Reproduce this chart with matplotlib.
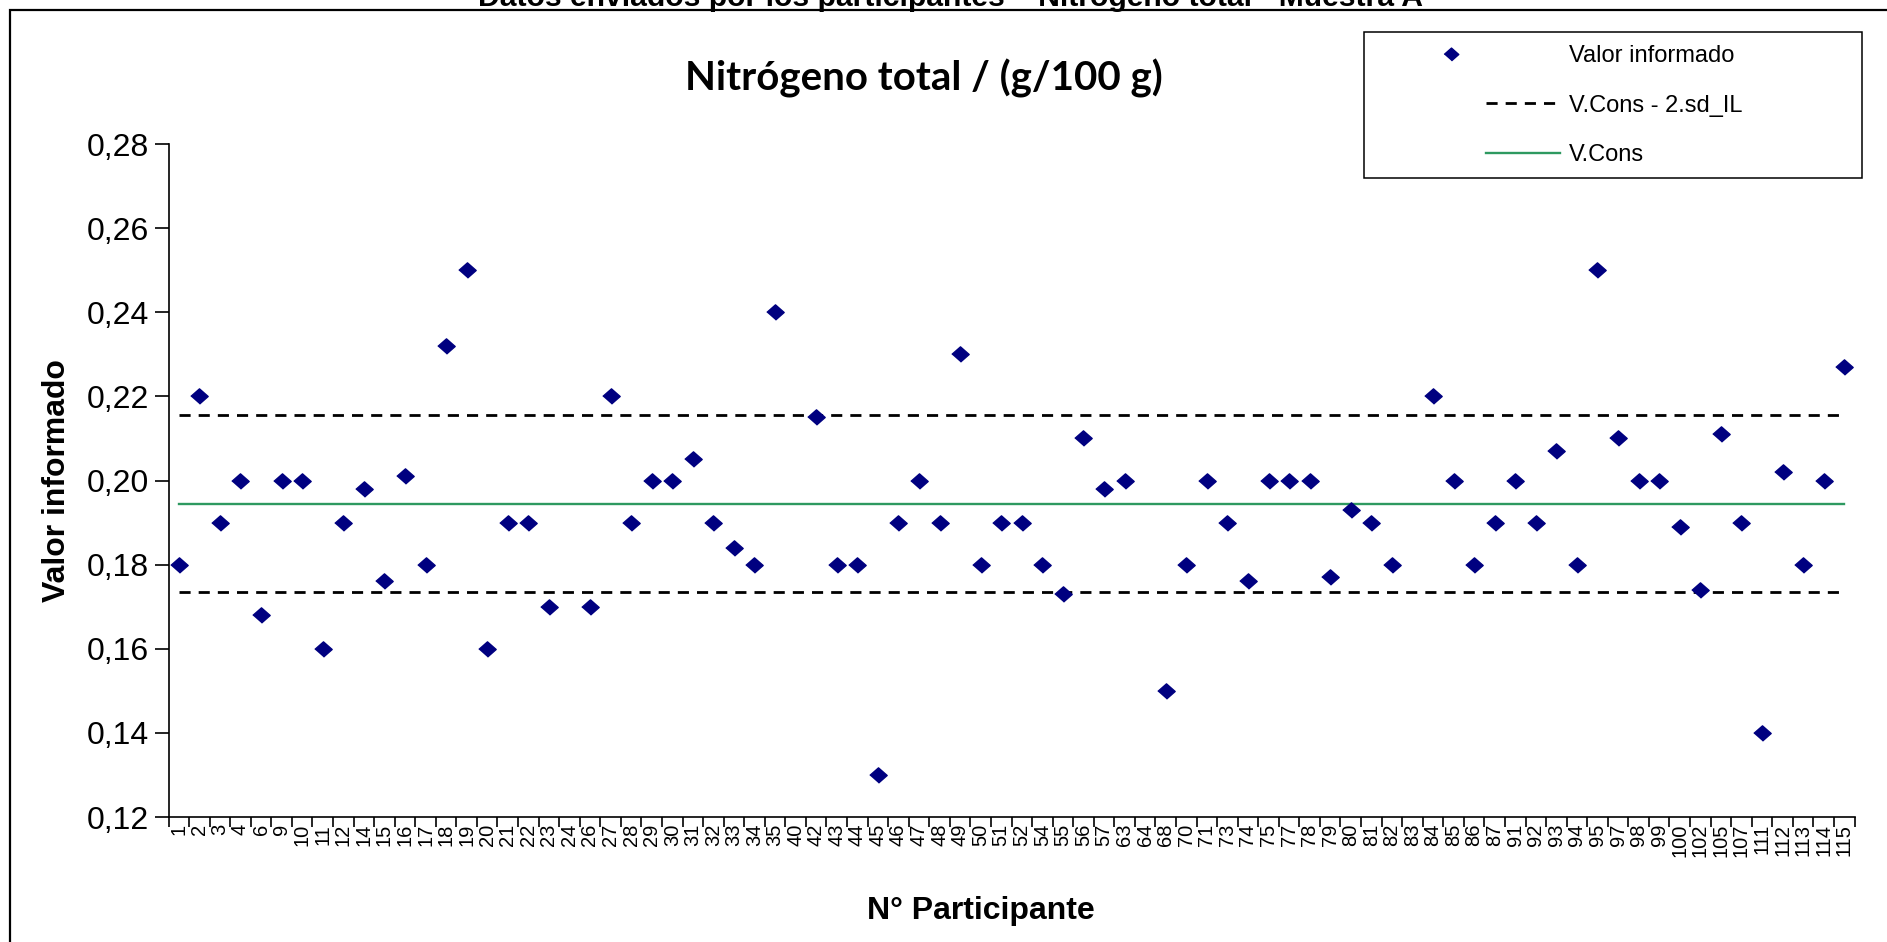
import numpy as np
import matplotlib
matplotlib.use("Agg")
import matplotlib.pyplot as plt
from matplotlib.lines import Line2D
from matplotlib.patches import Rectangle
from matplotlib.legend_handler import HandlerLine2D
from matplotlib.ticker import FuncFormatter

# --- data -------------------------------------------------------------
participants = ['1', '2', '3', '4', '6', '9', '10', '11', '12', '14',
                '15', '16', '17', '18', '19', '20', '21', '22', '23', '24',
                '26', '27', '28', '29', '30', '31', '32', '33', '34', '35',
                '40', '42', '43', '44', '45', '46', '47', '48', '49', '50',
                '51', '52', '54', '55', '56', '57', '63', '64', '68', '70',
                '71', '73', '74', '75', '77', '78', '79', '80', '81', '82',
                '83', '84', '85', '86', '87', '91', '92', '93', '94', '95',
                '97', '98', '99', '100', '102', '105', '107', '111', '112', '113',
                '114', '115']

reported = [0.180, 0.220, 0.190, 0.200, 0.168, 0.200, 0.200, 0.160, 0.190, 0.198,
            0.176, 0.201, 0.180, 0.232, 0.250, 0.160, 0.190, 0.190, 0.170, None,
            0.170, 0.220, 0.190, 0.200, 0.200, 0.205, 0.190, 0.184, 0.180, 0.240,
            None, 0.215, 0.180, 0.180, 0.130, 0.190, 0.200, 0.190, 0.230, 0.180,
            0.190, 0.190, 0.180, 0.173, 0.210, 0.198, 0.200, None, 0.150, 0.180,
            0.200, 0.190, 0.176, 0.200, 0.200, 0.200, 0.177, 0.193, 0.190, 0.180,
            None, 0.220, 0.200, 0.180, 0.190, 0.200, 0.190, 0.207, 0.180, 0.250,
            0.210, 0.200, 0.200, 0.189, 0.174, 0.211, 0.190, 0.140, 0.202, 0.180,
            0.200, 0.227]

v_cons = 0.1945      # consensus value
two_sd_il = 0.0210   # 2 x interlaboratory standard deviation

y_ticks = [0.12, 0.14, 0.16, 0.18, 0.20, 0.22, 0.24, 0.26, 0.28]

# --- figure -------------------------------------------------------------
W, H = 1887, 942
fig = plt.figure(figsize=(W / 100, H / 100), dpi=100)
fig.patch.set_facecolor("white")


def fx(px):
    return px / W


def fy(py):
    return 1 - py / H


sans = ["Liberation Sans", "DejaVu Sans"]
navy = "#000080"
green = "#2E9960"
diamond = [(-1, 0), (0, 0.88), (1, 0), (0, -0.88)]

ax = fig.add_axes([fx(168.5), fy(817), fx(1854.5) - fx(168.5), fy(144) - fy(817)])

n = len(participants)
x = np.arange(n)
vals = np.array([np.nan if v is None else v for v in reported], dtype=float)

ax.plot(x, np.full(n, v_cons + two_sd_il), color="black", lw=2.0, dashes=(4, 2.9))
ax.plot(x, np.full(n, v_cons - two_sd_il), color="black", lw=2.0, dashes=(4, 2.9))
ax.plot(x, np.full(n, v_cons), color=green, lw=1.7)
ax.plot(x, vals, ls="none", marker=diamond, ms=12.5, color=navy, mec=navy)

ax.set_xlim(-0.5, n - 0.5)
ax.set_ylim(y_ticks[0], y_ticks[-1])
ax.set_yticks(y_ticks)
ax.yaxis.set_major_formatter(FuncFormatter(lambda v, p: f"{v:.2f}".replace(".", ",")))

ax.set_xticks(x)
ax.set_xticklabels(participants, rotation=90, fontfamily=sans)
ax.set_xticks(np.arange(-0.5, n), minor=True)
ax.tick_params(axis="x", which="major", length=0, pad=5, labelsize=14.5)
ax.tick_params(axis="x", which="minor", length=7, width=1.2, direction="out")
ax.tick_params(axis="y", length=10, width=1.2, pad=4, labelsize=23)
for lab in ax.get_yticklabels():
    lab.set_fontfamily(sans)

for side in ("top", "right"):
    ax.spines[side].set_visible(False)
for side in ("left", "bottom"):
    ax.spines[side].set_linewidth(1.2)
    ax.spines[side].set_color("black")

ax.set_ylabel("Valor informado", fontsize=23, fontweight="bold", fontfamily=sans)
ax.yaxis.set_label_coords((57 - 168.5) / 1686, 0.5)
ax.set_xlabel("N° Participante", fontsize=23, fontweight="bold", fontfamily=sans)
ax.xaxis.set_label_coords((981 - 168.5) / 1686, (817 - 911) / 673)
ax.xaxis.label.set_va("center")
ax.yaxis.label.set_va("center")

ax.set_title("Nitrógeno total / (g/100 g)", x=(924 - 168.5) / 1686, y=(817 - 87) / 673,
             va="center", fontsize=29, fontweight="bold", fontfamily=["Lato", "DejaVu Sans"])

fig.text(fx(951), fy(6), "Datos enviados por los participantes – Nitrógeno total - Muestra A",
         ha="center", va="baseline", fontsize=21.7, fontweight="bold", fontfamily=sans)

# outer chart frame
fig.add_artist(Rectangle((fx(10), -0.2), 1.5, fy(10) + 0.2, transform=fig.transFigure,
                         fill=False, ec="black", lw=1.6))

# legend frame
fig.add_artist(Rectangle((fx(1364), fy(178)), fx(1862) - fx(1364), fy(32) - fy(178),
                         transform=fig.transFigure, fill=False, ec="black", lw=1.1))


class MarkerLeft(HandlerLine2D):
    """Puts the marker to the left of the handle slot."""

    def get_xdata(self, legend, xdescent, ydescent, width, height, fontsize):
        m = -xdescent - 0.47 * width
        return [m - 1, m + 1], [m]


h_pts = Line2D([], [], ls="none", marker=diamond, ms=10.5, color=navy)
h_dash = Line2D([], [], color="black", lw=2.0, dashes=(4, 2.9))
h_cons = Line2D([], [], color=green, lw=1.7)

fig.legend([h_pts, h_dash, h_cons], ["Valor informado", "V.Cons - 2.sd_IL", "V.Cons"],
           loc="upper left", bbox_to_anchor=(fx(1486), fy(45)), frameon=False,
           prop={"family": sans, "size": 17}, handlelength=3.13, handletextpad=0.4,
           labelspacing=1.17, borderpad=0, borderaxespad=0,
           handler_map={h_pts: MarkerLeft(numpoints=1)})

fig.savefig("out.png", dpi=100)
